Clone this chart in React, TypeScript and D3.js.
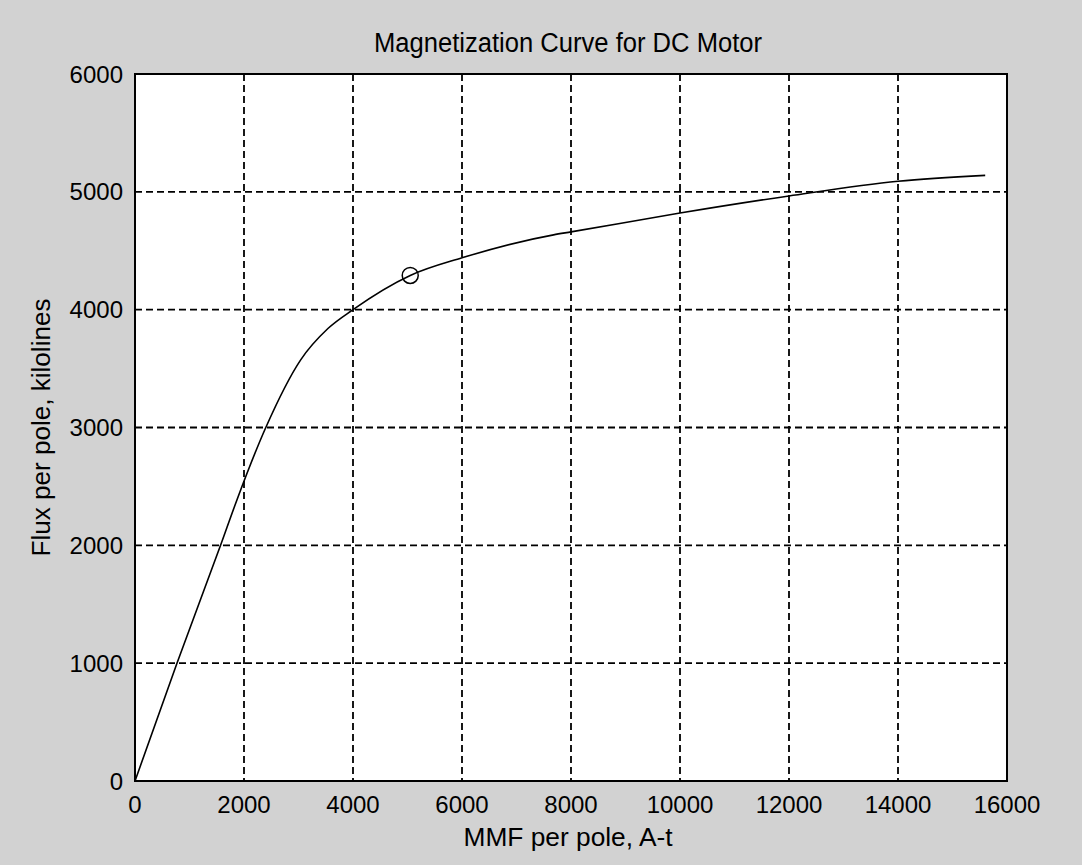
import React from "react";
import * as d3 from "d3";

const mmf: number[] = [0, 770, 1570, 1870, 2400, 3040, 3540, 4000, 5050, 6000, 7680, 8000, 10000, 12000, 14000, 15600];
const flux: number[] = [0, 1000, 2000, 2385, 3000, 3574, 3840, 4000, 4290, 4440, 4635, 4660, 4820, 4965, 5090, 5140];
const opPoint: [number, number] = [5050, 4290];
const xTicks: number[] = [0, 2000, 4000, 6000, 8000, 10000, 12000, 14000, 16000];
const yTicks: number[] = [0, 1000, 2000, 3000, 4000, 5000, 6000];
const title = "Magnetization Curve for DC Motor";
const xLabel = "MMF per pole, A-t";
const yLabel = "Flux per pole, kilolines";

const W = 1082;
const H = 865;
const L = 135, R = 1007, T = 74, B = 781;
const FONT = "'Liberation Sans', Arial, sans-serif";

export default function App() {
  const x = d3.scaleLinear().domain([0, 16000]).range([L, R]);
  const y = d3.scaleLinear().domain([0, 6000]).range([B, T]);
  const pts = mmf.map((m, i) => [m, flux[i]] as [number, number]);
  const line = d3
    .line<[number, number]>()
    .x((d) => x(d[0]))
    .y((d) => y(d[1]))
    .curve(d3.curveMonotoneX);
  const dash = "7,4";
  return (
    <svg
      width={W}
      height={H}
      style={{ position: "absolute", left: 0, top: 0, display: "block" }}
      fontFamily={FONT}
    >
      <rect x={0} y={0} width={W} height={H} fill="#d2d2d2" />
      <rect x={L} y={T} width={R - L} height={B - T} fill="#ffffff" />
      {xTicks.slice(1, -1).map((t) => (
        <line key={"gx" + t} x1={x(t)} x2={x(t)} y1={T} y2={B} stroke="#000" strokeWidth={1.8} strokeDasharray={dash} />
      ))}
      {yTicks.slice(1, -1).map((t) => (
        <line key={"gy" + t} x1={L} x2={R} y1={y(t)} y2={y(t)} stroke="#000" strokeWidth={1.8} strokeDasharray={dash} />
      ))}
      <rect x={L} y={T} width={R - L} height={B - T} fill="none" stroke="#000" strokeWidth={2} />
      <path d={line(pts) || ""} fill="none" stroke="#000" strokeWidth={1.6} />
      <circle cx={x(opPoint[0])} cy={y(opPoint[1])} r={8} fill="none" stroke="#000" strokeWidth={1.5} />
      {xTicks.map((t) => (
        <text key={"tx" + t} x={x(t)} y={813} fontSize={24} textAnchor="middle" fill="#000">
          {t}
        </text>
      ))}
      {yTicks.map((t) => (
        <text key={"ty" + t} x={123} y={y(t)} dy="0.36em" fontSize={24} textAnchor="end" fill="#000">
          {t}
        </text>
      ))}
      <text x={568} y={52} fontSize={27} textAnchor="middle" textLength={388} lengthAdjust="spacingAndGlyphs" fill="#000">
        {title}
      </text>
      <text x={568} y={846} fontSize={25} textAnchor="middle" textLength={209} lengthAdjust="spacingAndGlyphs" fill="#000">
        {xLabel}
      </text>
      <text
        transform={`translate(50, ${(T + B) / 2}) rotate(-90)`}
        fontSize={25}
        textAnchor="middle"
        textLength={258}
        lengthAdjust="spacingAndGlyphs"
        fill="#000"
      >
        {yLabel}
      </text>
    </svg>
  );
}
